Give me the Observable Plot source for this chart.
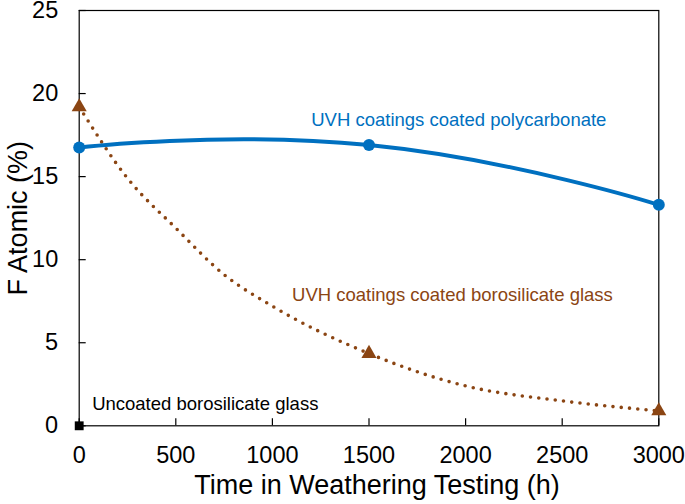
<!DOCTYPE html>
<html><head><meta charset="utf-8">
<script src="https://cdn.jsdelivr.net/npm/d3@7"></script>
<script src="https://cdn.jsdelivr.net/npm/@observablehq/plot@0.6"></script>
<style>body{margin:0;background:#fff}</style>
</head><body><div id="chart"></div>
<script>
// Data
const hours = [0, 1500, 3000];
const polycarbonateF = [16.75, 16.9, 13.3];
const borosilicateCoatedF = [19.2, 4.35, 0.9];
// dotted trend line of the coated borosilicate series
const trendHours = [0, 250, 500, 750, 1000, 1500, 2000, 2500, 3000];
const trendF = [19.2, 14.9, 11.9, 9.1, 7.2, 4.35, 2.4, 1.5, 0.9];
const uncoatedHours = [0];
const uncoatedF = [0];
const xTicks = [0, 500, 1000, 1500, 2000, 2500, 3000];
const yTicks = [0, 5, 10, 15, 20, 25];
const polyLabel = "UVH coatings coated polycarbonate";
const boroLabel = "UVH coatings coated borosilicate glass";
const uncoatedLabel = "Uncoated borosilicate glass";
const xTitle = "Time in Weathering Testing (h)";
const yTitle = "F Atomic (%)";

const blue = "#0070C0", brown = "#8B4513";
const poly = hours.map((h, i) => ({h, v: polycarbonateF[i]}));
const boro = hours.map((h, i) => ({h, v: borosilicateCoatedF[i]}));
const trend = trendHours.map((h, i) => ({h, v: trendF[i]}));
const unc = uncoatedHours.map((h, i) => ({h, v: uncoatedF[i]}));

const chart = Plot.plot({
  width: 685, height: 504,
  marginLeft: 78.7, marginRight: 26.7, marginTop: 10, marginBottom: 78.7,
  x: {domain: [0, 3000]},
  y: {domain: [0, 25]},
  style: {fontFamily: "'Liberation Sans', Arial, sans-serif", background: "#fff"},
  marks: [
    Plot.axisX({ticks: xTicks, tickSize: 0, tickPadding: 21, fontSize: 23.5, tickFormat: "d", label: null}),
    Plot.axisX({ticks: xTicks, tickSize: -7, text: null, label: null, strokeWidth: 1.2}),
    Plot.axisY({ticks: yTicks, tickSize: 0, tickPadding: 21, fontSize: 23.5, tickFormat: "d", label: null}),
    Plot.axisY({ticks: yTicks, tickSize: -7, text: null, label: null, strokeWidth: 1.2}),
    Plot.frame({stroke: "#000", strokeWidth: 1.2}),
    Plot.line(trend, {x: "h", y: "v", curve: "monotone-x", stroke: brown, strokeWidth: 3.6, strokeDasharray: "0,8.3", strokeLinecap: "round"}),
    Plot.line(poly, {x: "h", y: "v", curve: "cardinal", tension: -0.5, stroke: blue, strokeWidth: 4}),
    Plot.dot(poly, {x: "h", y: "v", r: 6, fill: blue}),
    Plot.dot(boro, {x: "h", y: "v", symbol: "triangle", r: 5.6, fill: brown}),
    Plot.dot(unc, {x: "h", y: "v", symbol: "square", r: 5, fill: "#000"}),
    Plot.text([polyLabel], {x: 1965, y: 18.42, text: d => d, fill: blue, fontSize: 18.5, textAnchor: "middle", lineAnchor: "middle"}),
    Plot.text([boroLabel], {x: 1932, y: 7.88, text: d => d, fill: brown, fontSize: 18.5, textAnchor: "middle", lineAnchor: "middle"}),
    Plot.text([uncoatedLabel], {x: 67, y: 1.33, text: d => d, fill: "#000", fontSize: 18.5, textAnchor: "start", lineAnchor: "middle"}),
    Plot.text([xTitle], {frameAnchor: "bottom", text: d => d, dx: 8, dy: 60, fontSize: 27, textAnchor: "middle", lineAnchor: "middle"}),
    Plot.text([yTitle], {frameAnchor: "left", text: d => d, dx: -60.7, rotate: -90, fontSize: 27, textAnchor: "middle", lineAnchor: "middle"})
  ]
});
document.getElementById("chart").appendChild(chart);
</script>
</body></html>
